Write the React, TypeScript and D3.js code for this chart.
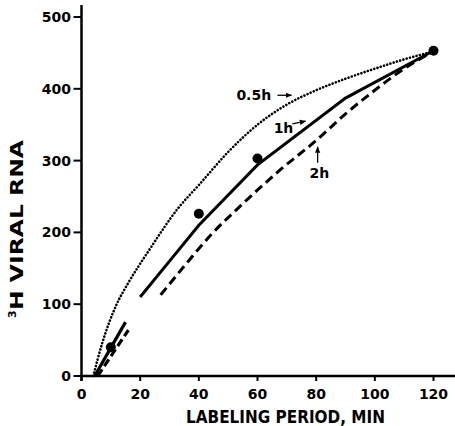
import * as d3 from 'd3';
import React from 'react';

const W = 455;
const H = 426;

// 0.5 h pulse (dotted curve)
const halfHourTime = [4, 7, 12, 16, 23, 33, 40, 50, 60, 70, 80, 90, 100, 110, 120];
const halfHourRna = [0, 45, 100, 130, 175, 234, 266, 312, 350, 378, 398, 414, 428, 441, 452];

// 1 h (solid), drawn in two pieces
const oneHourEarlyTime = [4.5, 15];
const oneHourEarlyRna = [0, 75];
const oneHourTime = [20, 30, 40, 60, 90, 120];
const oneHourRna = [110, 160, 210, 294, 387, 453];

// 2 h (dashed), two pieces
const twoHourEarlyTime = [5.5, 16];
const twoHourEarlyRna = [0, 64];
const twoHourTime = [27, 35, 44, 55, 68, 80, 90, 100, 110, 120];
const twoHourRna = [113, 153, 196, 240, 288, 328, 365, 398, 428, 452];

// measured points
const pointTime = [10, 40, 60, 120];
const pointRna = [40, 226, 303, 453];

const xTicks = [0, 20, 40, 60, 80, 100, 120];
const yTicks = [0, 100, 200, 300, 400, 500];

const font = '"DejaVu Sans", Arial, sans-serif';

const x = d3.scaleLinear().domain([0, 120]).range([81.5, 433.5]);
const y = d3.scaleLinear().domain([0, 500]).range([376, 17]);

const zip = (t: number[], v: number[]) => t.map((d, i) => [d, v[i]] as [number, number]);

// separate generators: .curve() mutates the generator it is called on
const straight = d3
  .line<[number, number]>()
  .x((d) => x(d[0]))
  .y((d) => y(d[1]));
const smooth = d3
  .line<[number, number]>()
  .x((d) => x(d[0]))
  .y((d) => y(d[1]))
  .curve(d3.curveMonotoneX);

export default function App() {
  return (
    <svg
      width={W}
      height={H}
      style={{ position: 'absolute', left: 0, top: 0, background: '#fff' }}
      fontFamily={font}
      fontWeight="bold"
    >
      <defs>
        <marker id="arr" viewBox="0 0 10 10" refX="9" refY="5" markerWidth="5" markerHeight="5" orient="auto">
          <path d="M0,1 L10,5 L0,9 Z" fill="#000" />
        </marker>
      </defs>

      {/* axes */}
      <line x1={x(0)} x2={W} y1={y(0)} y2={y(0)} stroke="#000" strokeWidth={2.5} />
      <line x1={x(0)} x2={x(0)} y1={5} y2={y(0) + 5} stroke="#000" strokeWidth={2.5} />
      {yTicks.map((t) => (
        <g key={'y' + t}>
          <line x1={x(0) - 8} x2={x(0)} y1={y(t)} y2={y(t)} stroke="#000" strokeWidth={2} />
          <text x={71} y={y(t)} dy="0.36em" textAnchor="end" fontSize={14}>
            {t}
          </text>
        </g>
      ))}
      {xTicks.map((t) => (
        <g key={'x' + t}>
          <line x1={x(t)} x2={x(t)} y1={y(0)} y2={y(0) + 5} stroke="#000" strokeWidth={2} />
          <text x={x(t)} y={399} textAnchor="middle" fontSize={14}>
            {t}
          </text>
        </g>
      ))}

      <text x={186} y={423} fontSize={17} textLength={199} lengthAdjust="spacingAndGlyphs">
        LABELING PERIOD, MIN
      </text>
      <text transform="translate(16,318) rotate(-90)" fontSize={11}>
        3
      </text>
      <text transform="translate(23,310) rotate(-90)" fontSize={17} textLength={170} lengthAdjust="spacingAndGlyphs">
        H VIRAL RNA
      </text>

      {/* curves */}
      <path
        d={smooth(zip(halfHourTime, halfHourRna)) || ''}
        fill="none"
        stroke="#000"
        strokeWidth={2.6}
        strokeLinecap="round"
        strokeDasharray="0.1 3.3"
      />
      <path d={straight(zip(oneHourEarlyTime, oneHourEarlyRna)) || ''} fill="none" stroke="#000" strokeWidth={3.2} />
      <path d={straight(zip(oneHourTime, oneHourRna)) || ''} fill="none" stroke="#000" strokeWidth={3} />
      <path
        d={straight(zip(twoHourEarlyTime, twoHourEarlyRna)) || ''}
        fill="none"
        stroke="#000"
        strokeWidth={3.2}
        strokeDasharray="8 4"
      />
      <path
        d={smooth(zip(twoHourTime, twoHourRna)) || ''}
        fill="none"
        stroke="#000"
        strokeWidth={3}
        strokeDasharray="9 5"
      />

      {zip(pointTime, pointRna).map(([t, v]) => (
        <circle key={'p' + t} cx={x(t)} cy={y(v)} r={5} fill="#000" />
      ))}

      {/* annotations */}
      <text x={x(52.8)} y={y(384)} fontSize={14}>
        0.5h
      </text>
      <line x1={x(66.8)} x2={x(71.6)} y1={y(391)} y2={y(391)} stroke="#000" strokeWidth={1.3} markerEnd="url(#arr)" />
      <text x={x(65.5)} y={y(338)} fontSize={14}>
        1h
      </text>
      <line x1={x(71.9)} x2={x(76.4)} y1={y(351)} y2={y(355)} stroke="#000" strokeWidth={1.3} markerEnd="url(#arr)" />
      <text x={x(77.7)} y={y(276)} fontSize={14}>
        2h
      </text>
      <line x1={x(80.5)} x2={x(80.5)} y1={y(297)} y2={y(319)} stroke="#000" strokeWidth={1.3} markerEnd="url(#arr)" />
    </svg>
  );
}
